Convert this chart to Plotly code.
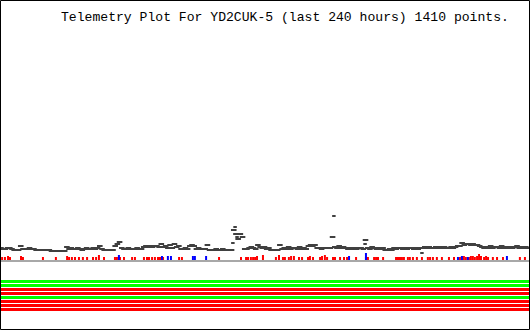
import plotly.graph_objects as go

# ---------------- data ----------------
title_text = "Telemetry Plot For YD2CUK-5 (last 240 hours) 1410 points."

# hourly telemetry value (height above baseline), hours 0..240
telemetry = [
    13, 12, 12, 13, 13, 12, 11, 11, 11, 15,            # 0-9
    12, 12, 12, 13, 12, 12, 11, 11, 11, 11,            # 10-19
    11, 11, 11, 10, 10, 10, 10, 10, 10, 10,            # 20-29
    14, 12, 13, 12, 12, 13, 12, 11, 12, 13,            # 30-39
    12, 12, 13, 12, 13, 15, 12, 11, 11, 11,            # 40-49
    11, 11, 15, 17, 19, 13, 12, 12, 13, 12,            # 50-59
    12, 12, 13, 12, 12, 14, 15, 14, 15, 14,            # 60-69
    15, 15, 14, 17, 14, 15, 13, 16, 13, 17,            # 70-79
    14, 15, 12, 12, 13, 12, 15, 16, 15, 12,            # 80-89
    13, 12, 12, 12, 16, 11, 11, 11, 12, 11,            # 90-99
    11, 12, 11, 11, 11, 11, 31, 27, 22, 27,            # 100-109
    24, 12, 12, 13, 14, 13, 12, 16, 14, 13,            # 110-119
    14, 12, 13, 11, 11, 11, 11, 16, 12, 13,            # 120-129
    12, 14, 12, 13, 13, 12, 14, 12, 13, 12,            # 130-139
    15, 16, 15, 16, 13, 13, 12, 13, 13, 13,            # 140-149
    13, 24, 14, 13, 15, 13, 14, 13, 12, 13,            # 150-159
    12, 13, 12, 13, 13, 12, 21, 13, 12, 14,            # 160-169
    13, 12, 13, 12, 13, 11, 11, 12, 11, 13,            # 170-179
    12, 13, 13, 12, 13, 12, 13, 13, 12, 13,            # 180-189
    12, 13, 13, 14, 13, 14, 13, 13, 14, 13,            # 190-199
    14, 13, 14, 13, 13, 14, 13, 14, 15, 15,            # 200-209
    18, 16, 17, 17, 16, 17, 16, 16, 15, 14,            # 210-219
    13, 14, 13, 15, 13, 14, 14, 13, 15, 13,            # 220-229
    14, 13, 14, 13, 14, 15, 13, 14, 13, 14,            # 230-239
    13,                                                # 240
]
hours = list(range(len(telemetry)))

# isolated extra readings
extra_hours = [105.6, 106.6, 107.5, 151.6, 165.8, 191.7]
extra_vals = [18, 34, 24, 45, 17, 8]

# red event marks (hour, height)
red_hours = [0.5, 1.8, 3.2, 4.1, 9.1, 10.0, 19.1, 25.0, 30.1, 31.0, 32.3, 33.7,
             35.5, 37.3, 39.2, 41.9, 43.3, 44.6, 46.9, 51.9, 52.8, 54.2, 56.0,
             59.7, 61.0, 65.1, 66.5, 67.4, 68.8, 70.1, 71.5, 72.4, 73.8, 81.1,
             82.4, 99.3, 109.3, 111.6, 112.5, 113.8, 114.8, 115.7, 116.6, 119.3,
             125.2, 126.6, 128.4, 129.3, 131.1, 132.1, 133.4, 135.7, 137.1,
             139.8, 140.7, 142.1, 145.3, 146.2, 147.5, 148.5, 151.2, 152.1,
             154.4, 156.2, 157.6, 161.7, 166.2, 167.1, 169.9, 170.8, 171.7,
             174.0, 179.9, 180.8, 181.7, 182.6, 183.5, 185.3, 186.2, 187.6,
             189.4, 191.7, 194.4, 195.4, 196.7, 198.5, 200.8, 204.0, 206.3,
             209.0, 209.9, 210.8, 211.7, 213.1, 214.0, 214.9, 215.8, 216.8,
             217.7, 218.6, 220.0, 220.9, 221.8, 224.0, 225.9, 228.6, 236.3, 238.6]
red_heights = [3, 3, 4, 3, 4, 3, 3, 3, 4, 3, 3, 3,
               3, 3, 3, 3, 3, 5, 3, 3, 3, 3, 3,
               3, 3, 3, 3, 3, 3, 3, 3, 3, 3, 3,
               3, 3, 3, 3, 3, 3, 3, 3, 4, 5,
               3, 5, 3, 3, 3, 4, 4, 3, 3,
               3, 4, 3, 3, 4, 5, 3, 3, 3,
               3, 3, 3, 3, 3, 3, 3, 3, 3,
               3, 3, 3, 3, 3, 3, 3, 3, 3,
               3, 3, 3, 3, 3, 3, 3, 3, 3,
               3, 4, 4, 3, 3, 4, 4, 3, 4,
               6, 4, 3, 4, 3, 3, 3, 3, 3, 3]

blue_hours = [53.7, 73.3, 76.0, 77.4, 87.4, 88.3, 93.4, 158.5, 166.2, 208.1, 209.9, 212.6, 230.4]
blue_heights = [5, 4, 4, 4, 4, 4, 4, 4, 7, 3, 4, 3, 4]

# status bits (1 = ok/green, 0 = red)
bit_status = [1, 1, 0, 0, 1, 0, 0, 0]

# ---------------- figure ----------------
W, H = 530, 330
px_per_hour = 527 / 240
x0 = -1 / px_per_hour
x1 = x0 + W / px_per_hour

fig = go.Figure()

# baseline
fig.add_trace(go.Scatter(x=[0, 240.5], y=[0, 0], mode="lines",
                         line=dict(color="#a8a8a8", width=2), hoverinfo="skip"))


def segs(hs, hts):
    xs, ys = [], []
    for h, t in zip(hs, hts):
        xs += [h, h, None]
        ys += [1, 1 + t, None]
    return xs, ys


rx, ry = segs(red_hours, red_heights)
fig.add_trace(go.Scatter(x=rx, y=ry, mode="lines",
                         line=dict(color="#ff0000", width=2), hoverinfo="skip"))
bx, by = segs(blue_hours, blue_heights)
fig.add_trace(go.Scatter(x=bx, y=by, mode="lines",
                         line=dict(color="#0000ff", width=2), hoverinfo="skip"))

# telemetry points
fig.add_trace(go.Scatter(x=hours, y=telemetry, mode="markers",
                         marker=dict(symbol="line-ew", size=4,
                                     line=dict(color="#404040", width=2),
                                     color="#404040"),
                         hoverinfo="skip"))
fig.add_trace(go.Scatter(x=extra_hours, y=extra_vals, mode="markers",
                         marker=dict(symbol="line-ew", size=2.5,
                                     line=dict(color="#404040", width=2),
                                     color="#404040"),
                         hoverinfo="skip"))

# status bands
for i, s in enumerate(bit_status):
    fig.add_trace(go.Scatter(x=[x0, x1], y=[-i, -i], mode="lines", yaxis="y2",
                             line=dict(color="#00ff00" if s else "#ff0000", width=3),
                             hoverinfo="skip"))

fig.update_layout(
    width=W, height=H,
    margin=dict(l=0, r=0, t=0, b=0),
    paper_bgcolor="white", plot_bgcolor="white",
    showlegend=False,
    xaxis=dict(range=[x0, x1], visible=False, domain=[0, 1]),
    yaxis=dict(range=[-69, 261], visible=False, domain=[0, 1]),
    yaxis2=dict(range=[-12.125, 70.375], visible=False, domain=[0, 1],
                overlaying="y"),
    shapes=[dict(type="rect", xref="paper", yref="paper",
                 x0=0.5 / W, x1=1 - 0.5 / W, y0=0.5 / H, y1=1 - 0.5 / H,
                 line=dict(color="black", width=1))],
    annotations=[dict(text=title_text, xref="paper", yref="paper",
                      x=59 / W, y=1 - 17 / H, xanchor="left", yanchor="middle",
                      showarrow=False,
                      font=dict(family="Liberation Mono", size=13.1, color="black"))],
)

fig.write_html("out.html")
